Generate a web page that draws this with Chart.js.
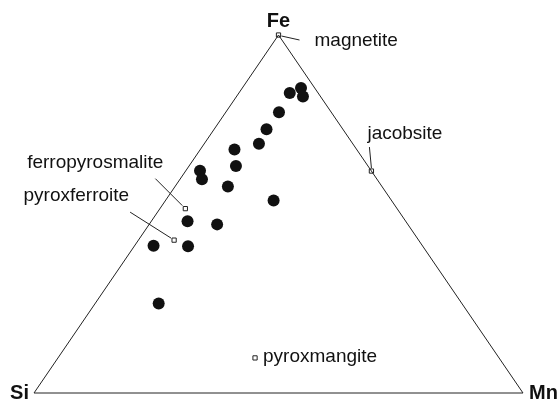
<!DOCTYPE html>
<html>
<head>
<meta charset="utf-8">
<script src="https://cdn.jsdelivr.net/npm/chart.js@4.4.0/dist/chart.umd.min.js"></script>
<style>
  html, body { margin: 0; padding: 0; background: #fff; }
  canvas { display: block; }
</style>
</head>
<body>
<canvas id="ternario" width="560" height="402"></canvas>
<script>
// composiciones en % (Si, Mn, Fe)
const muestraSi = [5.8, 2.8, 3.6, 10.7, 15.6, 19.2, 25.0, 27.0, 35.0, 35.8, 31.5, 24.1, 44.6, 39.0, 55.0, 48.0, 62.0]
const muestraMn = [10.4, 12.0, 13.6, 10.9, 10.7, 11.2, 7.0, 9.6, 2.9, 4.5, 10.8, 22.1, 7.4, 13.9, 3.9, 11.0, 13.0]
const muestraFe = [83.8, 85.2, 82.8, 78.4, 73.7, 69.6, 68.0, 63.4, 62.1, 59.7, 57.7, 53.8, 48.0, 47.1, 41.1, 41.0, 25.0]

const mineralNombre = ['magnetite', 'jacobsite', 'ferropyrosmalite', 'pyroxferroite', 'pyroxmangite']
const mineralSi = [0, 0, 43.3, 50.0, 49.9]
const mineralMn = [0, 38.0, 5.2, 7.3, 40.3]
const mineralFe = [100, 62.0, 51.5, 42.7, 9.8]

const verticeNombre = ['Si', 'Mn', 'Fe']
const verticeSi = [100, 0, 0]
const verticeMn = [0, 100, 0]
const verticeFe = [0, 0, 100]

function aXY(si, mn, fe) {
    const total = si + mn + fe
    return { x: (mn + fe / 2) / total * 100, y: fe / total * 100 }
}

const puntosMuestra = muestraSi.map((s, i) => aXY(s, muestraMn[i], muestraFe[i]))
const puntosMineral = mineralSi.map((s, i) => aXY(s, mineralMn[i], mineralFe[i]))
const vertices = verticeSi.map((s, i) => aXY(s, verticeMn[i], verticeFe[i]))
const triangulo = [vertices[0], vertices[1], vertices[2], vertices[0]]

// desplazamientos en px de lineas guia y textos
const etiquetas = {
    magnetite: { linea: [3, 1, 21, 5], texto: [36, 6], align: 'left' },
    jacobsite: { linea: [0, -3, -2, -24], texto: [-4, -37], align: 'left' },
    ferropyrosmalite: { linea: [-3, -3, -30, -30], texto: [-22, -46], align: 'right' },
    pyroxferroite: { linea: [-3, -2, -44, -28], texto: [-45, -44], align: 'right' },
    pyroxmangite: { linea: null, texto: [8, -1], align: 'left' }
}
const etiquetasVertice = {
    Si: { texto: [-5, 0], align: 'right' },
    Mn: { texto: [6, 0], align: 'left' },
    Fe: { texto: [0, -14], align: 'center' }
}

const rotulos = {
    id: 'rotulos',
    beforeDatasetsDraw(chart) {
        const ctx = chart.ctx
        const sx = chart.scales.x, sy = chart.scales.y
        ctx.save()
        ctx.strokeStyle = '#222'
        ctx.lineWidth = 1
        mineralNombre.forEach((n, i) => {
            const e = etiquetas[n]
            if (!e.linea) return
            const px = sx.getPixelForValue(puntosMineral[i].x)
            const py = sy.getPixelForValue(puntosMineral[i].y)
            ctx.beginPath()
            ctx.moveTo(px + e.linea[0], py + e.linea[1])
            ctx.lineTo(px + e.linea[2], py + e.linea[3])
            ctx.stroke()
        })
        ctx.restore()
    },
    afterDatasetsDraw(chart) {
        const ctx = chart.ctx
        const sx = chart.scales.x, sy = chart.scales.y
        ctx.save()
        ctx.fillStyle = '#111'
        ctx.textBaseline = 'middle'
        ctx.font = '19px "Liberation Sans", Arial, sans-serif'
        mineralNombre.forEach((n, i) => {
            const e = etiquetas[n]
            const px = sx.getPixelForValue(puntosMineral[i].x)
            const py = sy.getPixelForValue(puntosMineral[i].y)
            ctx.textAlign = e.align
            ctx.fillText(n, px + e.texto[0], py + e.texto[1])
        })
        ctx.font = 'bold 20px "Liberation Sans", Arial, sans-serif'
        verticeNombre.forEach((n, i) => {
            const e = etiquetasVertice[n]
            const px = sx.getPixelForValue(vertices[i].x)
            const py = sy.getPixelForValue(vertices[i].y)
            ctx.textAlign = e.align
            ctx.fillText(n, px + e.texto[0], py + e.texto[1])
        })
        ctx.restore()
    }
}

const config = {
    type: 'scatter',
    data: {
        datasets: [{
            data: triangulo,
            showLine: true,
            borderColor: '#222',
            borderWidth: 1,
            pointRadius: 0,
            clip: false
        }, {
            data: puntosMuestra,
            backgroundColor: '#111',
            borderColor: '#111',
            borderWidth: 0,
            pointRadius: 6,
            clip: false
        }, {
            data: puntosMineral,
            pointStyle: 'rect',
            backgroundColor: '#fff',
            borderColor: '#222',
            borderWidth: 1,
            pointRadius: 3,
            clip: false
        }]
    },
    options: {
        responsive: false,
        animation: false,
        layout: { padding: { left: 34, right: 37, top: 35, bottom: 9 } },
        plugins: { legend: { display: false }, tooltip: { enabled: false } },
        scales: {
            x: { type: 'linear', min: 0, max: 100, display: false },
            y: { type: 'linear', min: 0, max: 100, display: false }
        }
    },
    plugins: [rotulos]
}

new Chart(document.getElementById('ternario'), config)
</script>
</body>
</html>
